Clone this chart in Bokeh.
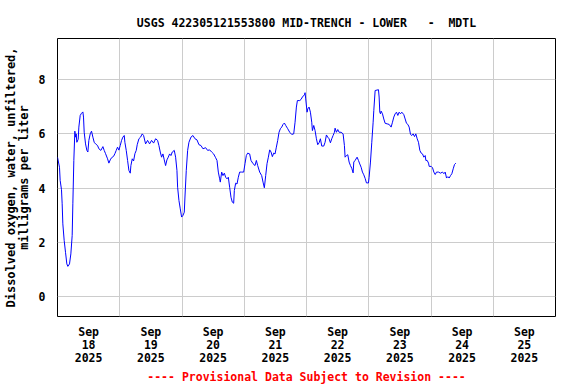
import pandas as pd
from bokeh.plotting import figure
from bokeh.models import FixedTicker, Range1d, Title, ColumnDataSource
from bokeh.embed import file_html
from bokeh.resources import INLINE

site_title = "USGS 422305121553800 MID-TRENCH - LOWER\u00a0\u00a0\u00a0-\u00a0\u00a0MDTL"
y_label = "Dissolved oxygen, water, unfiltered,\nmilligrams per liter"
footer = "---- Provisional Data Subject to Revision ----"
start_day = "2025-09-18"
tick_days = [18, 19, 20, 21, 22, 23, 24, 25]
tick_month = "Sep"
tick_year = "2025"
y_ticks = [0, 2, 4, 6, 8]

# hours since 2025-09-18 00:00
hours = [
    0.0, 0.77, 1.03, 1.54, 1.8, 2.06, 2.57, 3.09, 3.6, 3.99, 4.63, 5.15, 5.66, 5.92, 6.3,
    6.69, 6.95, 7.2, 7.46, 7.98, 8.23, 8.75, 9.26, 9.78, 10.03, 10.29, 10.81, 11.32, 11.71,
    12.09, 12.61, 13.12, 13.64, 14.15, 14.67, 15.44, 15.95, 16.72, 17.5, 18.01, 18.53, 19.3,
    19.81, 20.33, 20.84, 21.61, 22.13, 22.64, 23.15, 23.67, 24.19, 24.7, 25.21, 25.73, 25.98,
    26.5, 27.02, 27.53, 28.05, 28.3, 28.82, 29.33, 29.85, 30.36,
    30.74, 31.39, 32.03, 32.67, 33.19, 33.96, 34.73, 35.5, 36.27, 37.05, 37.82, 38.59, 39.1,
    39.62, 40.13, 40.65, 41.16, 41.68, 42.19, 42.71, 43.22, 43.74, 44.25, 45.02, 45.54, 46.05,
    46.31, 46.82, 47.34, 47.85, 48.37, 48.88, 49.14, 49.65, 50.17, 50.68, 51.45, 52.22, 53.0,
    53.77, 54.54, 55.31, 56.08, 57.11, 57.88, 58.66, 59.43, 60.2,
    60.97, 61.49, 62.0, 62.52, 62.77, 63.29, 63.8, 64.32, 64.83, 65.35, 65.86, 66.37, 66.89,
    67.4, 67.92, 68.18, 68.69, 69.2, 69.72, 70.23, 71.0, 71.78, 72.29, 72.8, 73.32, 74.09,
    74.6, 75.38, 76.15, 76.67, 77.18, 77.95, 78.72, 79.24, 79.75, 80.27, 80.78, 81.3, 81.81,
    82.33, 82.84, 83.35, 83.87, 84.38, 84.9, 85.41, 85.93, 86.44, 86.96, 87.47, 87.99, 88.76,
    89.53, 90.3, 91.07, 91.59,
    92.1, 92.49, 93.39, 93.9, 94.42, 95.19, 95.45, 95.7, 96.22, 96.48, 96.99, 97.51, 98.02,
    98.28, 98.79, 99.31, 99.82, 100.33, 100.85, 101.36, 101.88, 102.65, 103.16, 103.68,
    104.19, 104.71, 105.22, 105.74, 106.25, 106.77, 107.02, 107.54, 108.05, 108.57, 109.34,
    110.11, 110.62, 110.88, 111.4, 111.91, 112.43, 112.94, 113.45, 113.97, 114.23, 114.74,
    115.51, 116.03, 116.54, 117.06, 117.57, 118.09, 118.6, 119.12, 119.89, 120.14, 120.66,
    121.17, 121.69, 121.95, 122.46,
    123.75, 124.0, 124.26, 124.52, 124.77, 125.29, 125.8, 126.32, 127.09, 127.86, 128.63,
    129.15, 129.66, 130.18, 130.69, 131.21, 131.72, 132.24, 132.75, 133.52, 134.04, 134.55,
    135.07, 135.58, 136.1, 136.61, 137.13, 137.64, 138.15, 138.67, 139.18, 139.7, 140.21,
    140.73, 141.24, 141.76, 142.02, 142.53, 143.05, 143.3, 144.07, 144.59, 145.1, 145.62,
    146.13, 146.9, 147.67, 148.44, 148.96, 149.47, 149.99, 150.5, 151.01, 151.53, 152.04,
    152.56, 153.07, 153.59,
]

oxygen = [
    5.14, 4.77, 4.28, 3.94, 3.42, 2.68, 2.07, 1.63, 1.2, 1.11, 1.2, 1.57, 2.25, 3.42, 5.02,
    6.1, 5.88, 6.0, 5.69, 5.8, 6.25, 6.68, 6.76, 6.81, 6.62, 6.06, 5.63, 5.39, 5.33,
    5.76, 6.0, 6.1, 5.88, 5.69, 5.63, 5.57, 5.45, 5.39, 5.53, 5.39, 5.27, 5.08,
    4.92, 5.04, 5.12, 5.17, 5.27, 5.39, 5.51, 5.4, 5.57, 5.76, 5.88, 5.94, 5.69,
    5.39, 5.02, 4.65, 4.55, 4.83, 5.08, 5.0, 5.27, 5.39,
    5.6, 5.82, 5.88, 6.0, 5.94, 5.63, 5.76, 5.63, 5.76, 5.66, 5.82, 5.76, 5.57,
    5.33, 5.14, 5.26, 5.04, 4.83, 5.04, 5.14, 5.26, 5.2, 5.33, 5.39, 5.14, 4.65,
    4.03, 3.54, 3.23, 2.93, 2.99, 3.11, 3.67, 4.65, 5.39, 5.69, 5.88, 5.94, 5.82,
    5.78, 5.6, 5.57, 5.45, 5.49, 5.39, 5.41, 5.33, 5.26,
    5.12, 5.02, 4.59, 4.34, 4.22, 4.59, 4.46, 4.55, 4.4, 4.34, 4.4, 4.03, 3.66,
    3.48, 3.44, 3.91, 4.18, 4.15, 4.4, 4.59, 4.59, 4.59, 4.9, 5.2, 5.29, 5.26,
    5.02, 4.9, 4.83, 5.02, 4.83, 4.59, 4.46, 4.22, 4.01, 4.46, 4.9, 5.14, 5.41,
    5.33, 5.16, 5.29, 5.26, 5.51, 5.76, 6.06, 6.19, 6.25, 6.35, 6.4, 6.31, 6.19,
    6.06, 5.98, 6.0, 6.43,
    6.99, 7.23, 7.23, 7.27, 7.36, 7.44, 7.52, 7.29, 6.8, 6.92, 6.99, 6.8, 6.43,
    6.12, 6.31, 6.12, 5.82, 5.6, 5.67, 5.82, 5.55, 5.55, 5.69, 5.96,
    5.88, 5.82, 5.67, 5.82, 5.94, 6.06, 6.21, 6.06, 6.16, 6.06, 6.06,
    6.0, 5.57, 5.14, 5.2, 5.23, 4.96, 4.83, 4.73, 4.56, 4.96, 5.02,
    5.14, 5.02, 4.89, 4.77, 4.59, 4.49, 4.36, 4.19, 4.19, 4.4, 4.96,
    5.69, 6.43, 6.86, 7.6,
    7.63, 7.36, 6.8, 6.74, 6.84, 6.74, 6.55, 6.39, 6.37, 6.35, 6.25,
    6.43, 6.62, 6.74, 6.8, 6.68, 6.8, 6.74, 6.8, 6.71, 6.55, 6.39,
    6.35, 6.25, 5.98, 5.94, 6.0, 5.9, 6.0, 5.82, 5.69, 5.39, 5.29,
    5.26, 5.14, 5.2, 5.02, 5.02, 4.92, 4.8, 4.8, 4.75, 4.59, 4.5,
    4.59, 4.59, 4.55, 4.59, 4.53, 4.59, 4.37, 4.42, 4.37, 4.46, 4.53,
    4.71, 4.87, 4.92,
]

FONT = "DejaVu Sans Mono"
FSIZE = "11.5px"

t0 = pd.Timestamp(start_day)
times = [t0 + pd.Timedelta(hours=h) for h in hours]
src = ColumnDataSource(data=dict(t=times, v=oxygen))

def ms(ts):
    return int(ts.value // 10**6)

x_start = pd.Timestamp(f"2025-09-{tick_days[0]:02d}")
x_end = pd.Timestamp(f"2025-09-{tick_days[-1] + 1:02d}")

p = figure(width=576, height=384, x_axis_type="datetime",
           output_backend="svg", toolbar_location=None,
           x_range=Range1d(ms(x_start), ms(x_end)), y_range=Range1d(-0.74, 9.52),
           min_border_left=57, min_border_right=21, min_border_top=38,
           min_border_bottom=68)

p.line("t", "v", source=src, line_color="#0000ff", line_width=1)

# title
p.title.text = site_title
p.title.align = "center"
p.title.text_font = FONT
p.title.text_font_size = FSIZE
p.title.text_font_style = "bold"
p.title.text_color = "black"
p.title.standoff = 17

# x axis: labels at noon, grid at midnight
noon = [ms(pd.Timestamp(f"2025-09-{d:02d} 12:00")) for d in tick_days]
midnight = [ms(pd.Timestamp(f"2025-09-{d:02d}")) for d in tick_days[1:]]
p.xaxis.ticker = FixedTicker(ticks=noon)
p.xaxis.major_label_overrides = {n: f"{tick_month}\n{d}\n{tick_year}" for n, d in zip(noon, tick_days)}
p.xgrid.ticker = FixedTicker(ticks=midnight)

p.yaxis.ticker = FixedTicker(ticks=y_ticks)
p.ygrid.ticker = FixedTicker(ticks=y_ticks)
p.yaxis.axis_label = y_label

for ax in (p.xaxis, p.yaxis):
    ax.axis_line_color = None
    ax.major_tick_line_color = None
    ax.minor_tick_line_color = None
    ax.major_label_text_font = FONT
    ax.major_label_text_font_size = FSIZE
    ax.major_label_text_font_style = "bold"
    ax.major_label_text_color = "black"
    ax.major_label_text_line_height = 0.93
    ax.axis_label_text_font = FONT
    ax.axis_label_text_font_size = "12px"
    ax.axis_label_text_font_style = "bold"
    ax.axis_label_text_color = "black"
    ax.axis_label_text_line_height = 0.9

p.xaxis.major_label_standoff = 2
p.yaxis.major_label_standoff = 6
p.yaxis.axis_label_standoff = 5

for g in (p.xgrid, p.ygrid):
    g.grid_line_color = "#cccccc"
    g.grid_line_width = 1

p.outline_line_color = "black"
p.outline_line_width = 1
p.background_fill_color = "white"
p.border_fill_color = "white"

p.add_layout(Title(text=footer, align="center", text_color="red", text_font=FONT,
                   text_font_size=FSIZE, text_font_style="bold", standoff=0), "below")

open("out.html", "w").write(file_html(p, INLINE))
